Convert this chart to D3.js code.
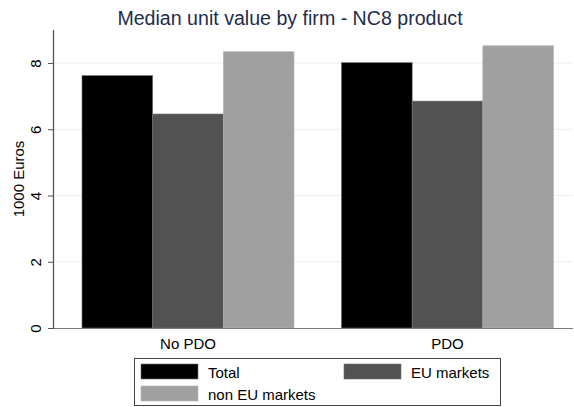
<!DOCTYPE html>
<html>
<head>
<meta charset="utf-8">
<script src="https://cdn.jsdelivr.net/npm/d3@7"></script>
<style>
	body { margin: 0; background: #fff; }
	svg { display: block; font-family: Arial, "Liberation Sans", sans-serif; }
</style>
</head>
<body>
<svg id="chart"></svg>
<script>
var groups = ["No PDO", "PDO"];
var seriesNames = ["Total", "EU markets", "non EU markets"];
var seriesColors = ["#000000", "#525252", "#a0a0a0"];
var totalValues = [7.62, 8.01];
var euValues = [6.46, 6.85];
var nonEuValues = [8.34, 8.52];
var yTicks = [0, 2, 4, 6, 8];

var width = 574, height = 407;
var margin = {top: 30, right: 1, bottom: 79, left: 53};

var svg = d3.select("#chart").attr("width", width).attr("height", height);

var y = d3.scaleLinear().domain([0, 8]).range([328, 63]);
// bar groups sit inside the plot region
var x0 = d3.scaleBand().domain(groups).range([82, 553.5]).paddingInner(0.183).paddingOuter(0);
var x1 = d3.scaleBand().domain(seriesNames).range([0, x0.bandwidth()]);

// gridlines
svg.append("g").selectAll("line").data(yTicks.slice(1)).enter().append("line")
	.attr("x1", margin.left).attr("x2", width - margin.right)
	.attr("y1", function(d) { return y(d); }).attr("y2", function(d) { return y(d); })
	.style("stroke", "#e8f0f0").style("stroke-width", "1px");

var rows = groups.map(function(g, i) {
	return [totalValues[i], euValues[i], nonEuValues[i]];
});

svg.append("g").selectAll("g").data(rows).enter().append("g")
	.attr("transform", function(d, i) { return "translate(" + x0(groups[i]) + ",0)"; })
	.selectAll("rect").data(function(d) { return d; }).enter().append("rect")
		.attr("x", function(d, j) { return x1(seriesNames[j]); })
		.attr("y", function(d) { return y(d); })
		.attr("width", x1.bandwidth())
		.attr("height", function(d) { return y(0) - y(d); })
		.style("fill", function(d, j) { return seriesColors[j]; })
		.style("stroke", function(d, j) { return j == 2 ? "#b4b4b4" : "#707070"; })
		.style("stroke-width", "0.6px");

// x axis baseline
svg.append("line")
	.attr("x1", margin.left).attr("x2", width - margin.right)
	.attr("y1", y(0) + 0.5).attr("y2", y(0) + 0.5)
	.style("stroke", "#7a7a7a").style("stroke-width", "1.2px");

// y axis
var yAxis = svg.append("g").attr("transform", "translate(" + margin.left + ",0)")
	.call(d3.axisLeft(y).tickValues(yTicks).tickSize(5).tickSizeOuter(0).tickFormat(d3.format("d")));
yAxis.select(".domain").attr("d", "M0.5," + margin.top + "V" + (y(0) + 1)).style("stroke", "#555").style("stroke-width", "1.3px");
yAxis.selectAll(".tick line").style("stroke", "#555");
yAxis.selectAll(".tick text")
	.attr("x", null).attr("dy", null)
	.attr("transform", "translate(-12,0) rotate(-90)")
	.attr("text-anchor", "middle")
	.style("font-size", "15px").style("fill", "#000");

svg.append("text")
	.attr("transform", "translate(24," + ((margin.top + y(0)) / 2) + ") rotate(-90)")
	.attr("text-anchor", "middle")
	.style("font-size", "15px")
	.text("1000 Euros");

// category labels
svg.append("g").selectAll("text").data(groups).enter().append("text")
	.attr("x", function(d) { return x0(d) + x0.bandwidth() / 2; })
	.attr("y", 349)
	.attr("text-anchor", "middle")
	.style("font-size", "15px")
	.text(function(d) { return d; });

// title
svg.append("text")
	.attr("x", 290).attr("y", 25)
	.attr("text-anchor", "middle")
	.style("font-size", "19.6px").style("fill", "#1e2d4a")
	.text("Median unit value by firm - NC8 product");

// legend
var legend = svg.append("g");
legend.append("rect")
	.attr("x", 134.5).attr("y", 358.5).attr("width", 366).attr("height", 47)
	.style("fill", "#fff").style("stroke", "#444").style("stroke-width", "1px");
var legendPos = [
	{kx: 141, ky: 364, tx: 208, ty: 378},
	{kx: 344, ky: 364, tx: 411, ty: 378},
	{kx: 141, ky: 386, tx: 208, ty: 400}
];
seriesNames.forEach(function(name, i) {
	var p = legendPos[i];
	legend.append("rect")
		.attr("x", p.kx).attr("y", p.ky).attr("width", 57).attr("height", 15)
		.style("fill", seriesColors[i]).style("stroke", i == 2 ? "#b4b4b4" : "#707070").style("stroke-width", "0.6px");
	legend.append("text")
		.attr("x", p.tx).attr("y", p.ty)
		.style("font-size", "15px")
		.text(name);
});
</script>
</body>
</html>
